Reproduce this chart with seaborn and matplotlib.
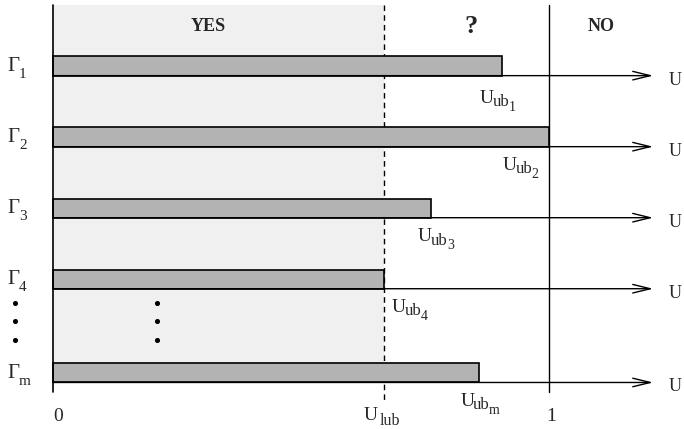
import numpy as np
import pandas as pd
import matplotlib
matplotlib.use("Agg")
import matplotlib.pyplot as plt
import seaborn as sns

# task sets and their utilisation upper bounds
tasks = ["1", "2", "3", "4", "m"]
row_pos = [0, 1, 2, 3, 4.32]
u_ub = [0.905, 1.0, 0.762, 0.667, 0.859]
u_lub = 0.667
# where the U_ub labels sit, relative to the bar end / arrow line
label_dx = [-0.044, -0.093, -0.026, 0.016, -0.038]
label_dy = [0.38, 0.325, 0.335, 0.325, 0.325]

sns.set_theme(style="white")
plt.rcParams["font.family"] = ["Liberation Serif", "DejaVu Serif"]

df = pd.DataFrame({"task": tasks, "pos": row_pos, "u": u_ub})

fig = plt.figure(figsize=(6.84, 4.29), dpi=100)
ax = fig.add_axes([0, 0, 1, 1])


def sub_label(x, y, base, parts, size=14, ha="left"):
    # base text plus a chain of progressively lowered/smaller subscripts
    t = ax.text(x, y, base, fontsize=size, ha=ha, va="baseline")
    for txt, s, off, gap in parts:
        t = ax.annotate(txt, xy=(1, 0), xycoords=t, xytext=(gap, off),
                        textcoords="offset points", fontsize=s, va="bottom")
    return t


bar_h = 0.27
y_top = -0.86
y_bot = 4.59

# light "YES" region
ax.fill_between([0, u_lub], y_top, row_pos[-1] + bar_h / 2,
                color="#f0f0f0", zorder=0, linewidth=0)

sns.barplot(data=df, x="u", y="pos", orient="h", native_scale=True,
            width=bar_h, color="#b3b3b3", edgecolor="black", linewidth=1.2,
            saturation=1, ax=ax, zorder=3)
ax.set_xlim(-53 / 496, 631 / 496)
ax.set_ylim(5.11, -0.93)
ax.axis("off")

# axes lines
ax.plot([0, 0], [y_top, y_bot], color="black", lw=1.2, zorder=4)
ax.plot([1, 1], [y_top, y_bot], color="black", lw=1, zorder=2)
ax.plot([u_lub, u_lub], [y_top, 4.7], color="black", lw=1, ls=(0, (4, 3)), zorder=2)

x_end = 1.21
for t, p, u, dx, dy in zip(tasks, row_pos, u_ub, label_dx, label_dy):
    yb = p + bar_h / 2
    ax.annotate("", xy=(x_end, yb), xytext=(0, yb),
                arrowprops=dict(arrowstyle="->,head_length=0.9,head_width=0.22",
                                lw=1, color="black", shrinkA=0, shrinkB=0,
                                mutation_scale=14), zorder=4)
    ax.text(1.242, yb + 0.127, "U", fontsize=13, ha="left", va="baseline")
    sub_label(-0.092, p + 0.075, "\u0393", [(t, 11, -3.5, -0.3)], size=15)
    sub_label(u + dx, yb + dy, "U", [("ub", 12, -2.5, -0.8), (t, 10, -2.5, -0.6)])

# region titles
ax.text(u_lub * 0.47, -0.55, "YES", fontsize=13, fontweight="bold", ha="center", va="center")
ax.text(0.843, -0.55, "?", fontsize=19, fontweight="bold", ha="center", va="center")
ax.text(1.105, -0.55, "NO", fontsize=13, fontweight="bold", ha="center", va="center")

# vertical ellipsis
dots_y = np.linspace(3.33, 3.86, 3)
ax.scatter([-0.077] * 3, dots_y, s=7, color="black", zorder=5)
ax.scatter([0.21] * 3, dots_y, s=7, color="black", zorder=5)

# x labels
ax.text(0.0, 5.0, "0", fontsize=14, ha="left", va="baseline")
ax.text(0.995, 5.0, "1", fontsize=14, ha="left", va="baseline")
sub_label(u_lub - 0.04, 4.99, "U", [("lub", 11.5, -3.0, 1.5)])

fig.savefig("out.png", dpi=100)
